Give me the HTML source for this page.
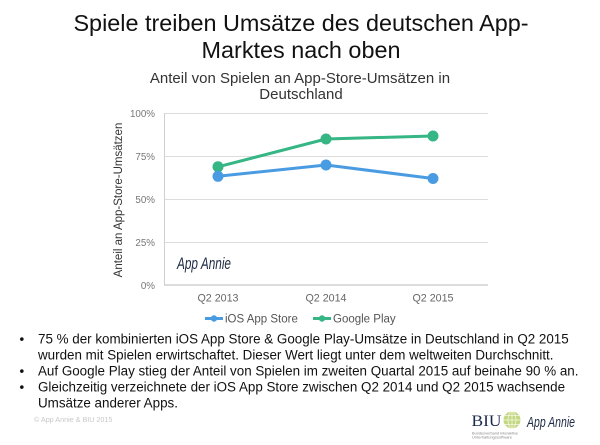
<!DOCTYPE html>
<html>
<head>
<meta charset="utf-8">
<style>
html,body{margin:0;padding:0;background:#fff;}
svg{display:block;}
</style>
</head>
<body>
<svg width="600" height="445" viewBox="0 0 600 445" xmlns="http://www.w3.org/2000/svg" font-family="'Liberation Sans',Arial,sans-serif">
  <rect width="600" height="445" fill="#fff"/>
  <!-- Main title -->
  <text x="301" y="31" font-size="23.4" fill="#111" text-anchor="middle">Spiele treiben Umsätze des deutschen App-</text>
  <text x="301" y="58" font-size="23.4" fill="#111" text-anchor="middle">Marktes nach oben</text>
  <!-- Chart title -->
  <text x="300" y="83" font-size="15" fill="#333" text-anchor="middle">Anteil von Spielen an App-Store-Umsätzen in</text>
  <text x="301" y="99" font-size="15" fill="#333" text-anchor="middle">Deutschland</text>

  <!-- Gridlines -->
  <g stroke="#dcdcdc" stroke-width="1">
    <line x1="164" y1="113.5" x2="488" y2="113.5"/>
    <line x1="164" y1="156.5" x2="488" y2="156.5"/>
    <line x1="164" y1="199.5" x2="488" y2="199.5"/>
    <line x1="164" y1="242.5" x2="488" y2="242.5"/>
  </g>
  <line x1="164.5" y1="113" x2="164.5" y2="285" stroke="#d0d0d0" stroke-width="1"/>
  <line x1="164" y1="285" x2="488" y2="285" stroke="#c8c8c8" stroke-width="1.2"/>

  <!-- Y tick labels -->
  <g font-size="9.8" fill="#777" text-anchor="end">
    <text x="155" y="117">100%</text>
    <text x="155" y="160">75%</text>
    <text x="155" y="203">50%</text>
    <text x="155" y="246">25%</text>
    <text x="155" y="289">0%</text>
  </g>
  <!-- Y axis title -->
  <text transform="translate(122,200) rotate(-90)" font-size="11.5" fill="#333" text-anchor="middle">Anteil an App-Store-Umsätzen</text>

  <!-- X tick labels -->
  <g font-size="10.7" fill="#666" text-anchor="middle">
    <text x="218" y="301.5">Q2 2013</text>
    <text x="326" y="301.5">Q2 2014</text>
    <text x="433" y="301.5">Q2 2015</text>
  </g>

  <!-- Watermark -->
  <text x="177" y="269" font-size="17" font-style="italic" fill="#1e2b45" textLength="54" lengthAdjust="spacingAndGlyphs">App Annie</text>

  <!-- Series: Google Play -->
  <polyline points="218,166.8 326,139 433,136" fill="none" stroke="#36b585" stroke-width="3" stroke-linejoin="round"/>
  <g fill="#36b585">
    <circle cx="218" cy="166.8" r="5.5"/>
    <circle cx="326" cy="139" r="5.5"/>
    <circle cx="433" cy="136" r="5.5"/>
  </g>
  <!-- Series: iOS -->
  <polyline points="218,176.3 326,165 433,178.5" fill="none" stroke="#4a9ce2" stroke-width="3" stroke-linejoin="round"/>
  <g fill="#4a9ce2">
    <circle cx="218" cy="176.3" r="5.5"/>
    <circle cx="326" cy="165" r="5.5"/>
    <circle cx="433" cy="178.5" r="5.5"/>
  </g>

  <!-- Legend -->
  <line x1="205" y1="318.5" x2="223" y2="318.5" stroke="#4a9ce2" stroke-width="3"/>
  <circle cx="214" cy="318.5" r="3.2" fill="#4a9ce2"/>
  <text x="225" y="322.5" font-size="11.5" fill="#555">iOS App Store</text>
  <line x1="313" y1="318.5" x2="331" y2="318.5" stroke="#36b585" stroke-width="3"/>
  <circle cx="322" cy="318.5" r="3.2" fill="#36b585"/>
  <text x="333" y="322.5" font-size="11.5" fill="#555">Google Play</text>

  <!-- Bullets -->
  <g font-size="13.4" fill="#111">
    <text x="19.5" y="343.5">•</text>
    <text x="38" y="343.5">75 % der kombinierten iOS App Store &amp; Google Play-Umsätze in Deutschland in Q2 2015</text>
    <text x="38" y="359.5">wurden mit Spielen erwirtschaftet. Dieser Wert liegt unter dem weltweiten Durchschnitt.</text>
    <text x="19.5" y="375.5">•</text>
    <text x="38" y="375.5">Auf Google Play stieg der Anteil von Spielen im zweiten Quartal 2015 auf beinahe 90 % an.</text>
    <text x="19.5" y="391.5">•</text>
    <text x="38" y="391.5">Gleichzeitig verzeichnete der iOS App Store zwischen Q2 2014 und Q2 2015 wachsende</text>
    <text x="38" y="407.5">Umsätze anderer Apps.</text>
  </g>

  <!-- Copyright -->
  <text x="34" y="422" font-size="7.2" fill="#c8c8c8">© App Annie &amp; BIU 2015</text>

  <!-- Logos -->
  <text x="471.5" y="426" font-family="'Liberation Serif',serif" font-size="16" fill="#1a2a4a" textLength="30" lengthAdjust="spacingAndGlyphs">BIU</text>
  <circle cx="512" cy="420" r="8.5" fill="#c2d77f"/>
  <g stroke="#fff" stroke-width="0.8" fill="none" opacity="0.8">
    <ellipse cx="512" cy="420" rx="4" ry="8.5"/>
    <line x1="503.5" y1="420" x2="520.5" y2="420"/>
    <line x1="505" y1="415.5" x2="519" y2="415.5"/>
    <line x1="505" y1="424.5" x2="519" y2="424.5"/>
    <line x1="512" y1="411.5" x2="512" y2="428.5"/>
  </g>
  <text x="472" y="434.5" font-size="3.6" fill="#888" textLength="46" lengthAdjust="spacingAndGlyphs">Bundesverband Interaktive</text>
  <text x="472" y="438.5" font-size="3.6" fill="#888" textLength="40" lengthAdjust="spacingAndGlyphs">Unterhaltungssoftware</text>
  <text x="527" y="427" font-size="15" font-style="italic" fill="#1e2b45" textLength="48" lengthAdjust="spacingAndGlyphs">App Annie</text>
</svg>
</body>
</html>
